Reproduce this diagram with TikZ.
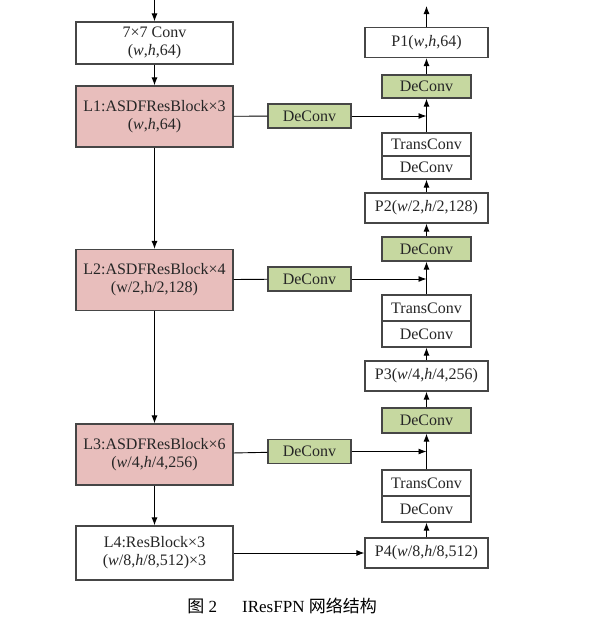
\documentclass[tikz,border=0pt]{standalone}
\usepackage{fontspec}
\setmainfont{Liberation Serif}
\newfontfamily\cjk{Noto Sans CJK SC}
\usetikzlibrary{arrows.meta}
\definecolor{blockred}{RGB}{232,190,188}
\definecolor{convgreen}{RGB}{198,216,160}
\definecolor{edgegray}{RGB}{70,70,70}
\begin{document}
\begin{tikzpicture}[x=1pt,y=-1pt,line width=0.9pt,
  font=\fontsize{16}{18}\selectfont,
  >={Latex[length=8pt,width=6pt]},
  box/.style={draw=edgegray,line width=1.2pt,inner sep=0pt,align=center,text=black!85},
  lbox/.style={box,fill=blockred,minimum width=157pt,minimum height=61pt},
  wbox/.style={box,fill=white,minimum width=157pt},
  gbox/.style={box,fill=convgreen,minimum width=83pt,minimum height=24pt},
  pbox/.style={box,fill=white,minimum width=123pt,minimum height=30pt},
  tbox/.style={box,fill=white,minimum width=89pt}]
  \useasboundingbox (0,0) rectangle (595,630);
  \pgfmathsetmacro\lx{154.5}
  \pgfmathsetmacro\mx{309.5}
  \pgfmathsetmacro\rx{426.5}
  % backbone on the left:
  \node[wbox,minimum height=42pt] (conv) at (\lx,43) {7×7 Conv\\(\textit{w},\textit{h},64)};
  \node[lbox] (l1) at (\lx,116.5) {L1:ASDFResBlock×3\\(\textit{w},\textit{h},64)};
  \node[lbox] (l2) at (\lx,280) {L2:ASDFResBlock×4\\(w/2,h/2,128)};
  \node[lbox] (l3) at (\lx,454.5) {L3:ASDFResBlock×6\\(\textit{w}/4,\textit{h}/4,256)};
  \node[wbox,minimum height=54pt] (l4) at (\lx,553) {L4:ResBlock×3\\(\textit{w}/8,\textit{h}/8,512)×3};
  % lateral deconvolutions:
  \node[gbox] (d1) at (\mx,116) {DeConv};
  \node[gbox] (d2) at (\mx,279) {DeConv};
  \node[gbox] (d3) at (\mx,451.5) {DeConv};
  % pyramid on the right:
  \node[pbox] (p1) at (\rx,42.5) {P1(\textit{w},\textit{h},64)};
  \node[gbox,minimum width=89pt,minimum height=23pt] (g1) at (\rx,86.5) {DeConv};
  \node[tbox,minimum height=23pt] (t1) at (\rx,144.5) {TransConv};
  \node[tbox,minimum height=23pt] (c1) at (\rx,167.5) {DeConv};
  \node[pbox] (p2) at (\rx,208) {P2(\textit{w}/2,\textit{h}/2,128)};
  \node[gbox,minimum width=89pt] (g2) at (\rx,249) {DeConv};
  \node[tbox,minimum height=26pt] (t2) at (\rx,308) {TransConv};
  \node[tbox,minimum height=26pt] (c2) at (\rx,334) {DeConv};
  \node[pbox] (p3) at (\rx,376) {P3(\textit{w}/4,\textit{h}/4,256)};
  \node[gbox,minimum width=89pt,minimum height=25pt] (g3) at (\rx,420.5) {DeConv};
  \node[tbox,minimum height=26pt] (t3) at (\rx,483) {TransConv};
  \node[tbox,minimum height=26pt] (c3) at (\rx,509) {DeConv};
  \node[pbox] (p4) at (\rx,553) {P4(\textit{w}/8,\textit{h}/8,512)};
  % input and output:
  \coordinate (in) at (\lx,0);
  \coordinate (out) at (\rx,6);
  % arrows down the backbone:
  \draw[->] (in) -- (conv);
  \draw[->] (conv) -- (l1);
  \draw[->] (l1) -- (l2);
  \draw[->] (l2) -- (l3);
  \draw[->] (l3) -- (l4);
  % lateral links:
  \draw (l1) -- (d1);
  \draw (l2) -- (d2);
  \draw (l3) -- (d3);
  \draw[->] (d1) -- (d1 -| t1.north);
  \draw[->] (d2) -- (d2 -| t2.north);
  \draw[->] (d3) -- (d3 -| t3.north);
  \draw[->] (l4) -- (p4);
  % arrows up the pyramid:
  \draw[->] (p4) -- (c3);
  \draw[->] (t3) -- (g3);
  \draw[->] (g3) -- (p3);
  \draw[->] (p3) -- (c2);
  \draw[->] (t2) -- (g2);
  \draw[->] (g2) -- (p2);
  \draw[->] (p2) -- (c1);
  \draw[->] (t1) -- (g1);
  \draw[->] (g1) -- (p1);
  \draw[->] (p1) -- (out);
  % caption:
  \node[anchor=west,inner sep=0pt,font=\fontsize{17}{20}\selectfont] (cap) at (187,606) {{\cjk 图}~2\hspace{25pt}IResFPN {\cjk 网络结构}};
\end{tikzpicture}
\end{document}
